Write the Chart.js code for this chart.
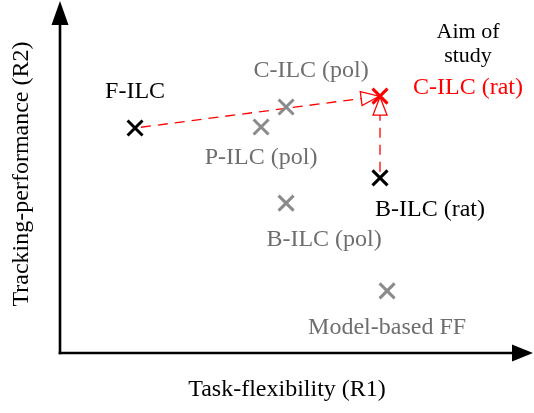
<!DOCTYPE html>
<html><head><meta charset="utf-8">
<script src="https://cdn.jsdelivr.net/npm/chart.js@4"></script>
<style>html,body{margin:0;padding:0;background:#fff}#wrap{width:534px;height:413px}</style>
</head><body><div id="wrap"><canvas id="c" width="534" height="413"></canvas></div>
<script>
// Data (arbitrary 0-10 units)
const names = ['F-ILC','P-ILC (pol)','C-ILC (pol)','C-ILC (rat)','B-ILC (rat)','B-ILC (pol)','Model-based FF'];
const flexibility = [1.59, 4.26, 4.79, 6.78, 6.78, 4.79, 6.93];
const performance = [6.41, 6.44, 7.01, 7.32, 4.99, 4.27, 1.77];
const kinds = ['black','gray','gray','red','black','gray','gray'];
const xTitle = 'Task-flexibility (R1)';
const yTitle = 'Tracking-performance (R2)';
const aimText = ['Aim of', 'study'];
// arrows: from index -> to index
const arrows = [[0,3],[4,3]];

// styling (kept separate)
const markColor = {black:'#000000', gray:'#8a8a8a', red:'#ff0000'};
const textColor = {black:'#000000', gray:'#6e6e6e', red:'#ff0000'};
const labelOffset = [[0,-36],[0,31],[25,-36],[88,-8],[50,32],[38,37],[0,37]];
const FONT = '"Liberation Serif", "Times New Roman", serif';

const overlay = {
  id:'overlay',
  afterDatasetsDraw(chart){
    const ctx = chart.ctx, xs = chart.scales.x, ys = chart.scales.y;
    const ca = chart.chartArea;
    const px = i => xs.getPixelForValue(flexibility[i]);
    const py = i => ys.getPixelForValue(performance[i]);
    ctx.save();
    // axes with arrowheads
    const ox = ca.left, oy = ca.bottom;
    ctx.strokeStyle = '#000'; ctx.fillStyle = '#000'; ctx.lineWidth = 2.6;
    ctx.beginPath(); ctx.moveTo(ox, oy + 1.3); ctx.lineTo(ox, ca.top + 20); ctx.stroke();
    ctx.beginPath(); ctx.moveTo(ox - 1.3, oy); ctx.lineTo(ca.right - 18, oy); ctx.stroke();
    ctx.beginPath(); ctx.moveTo(ox, ca.top - 1); ctx.lineTo(ox - 8.5, ca.top + 23); ctx.lineTo(ox + 8.5, ca.top + 23); ctx.closePath(); ctx.fill();
    ctx.beginPath(); ctx.moveTo(ca.right + 1, oy); ctx.lineTo(ca.right - 20, oy - 8.5); ctx.lineTo(ca.right - 20, oy + 8.5); ctx.closePath(); ctx.fill();
    // dashed arrows
    arrows.forEach(([a,b]) => {
      const x0 = px(a), y0 = py(a), x1 = px(b), y1 = py(b);
      const dx = x1 - x0, dy = y1 - y0, L = Math.hypot(dx, dy);
      const ux = dx / L, uy = dy / L;
      const head = 19, hw = 7;
      const bx = x1 - ux * head, by = y1 - uy * head;
      ctx.strokeStyle = '#ff0000'; ctx.lineWidth = 1.3; ctx.setLineDash([10,7]);
      ctx.beginPath(); ctx.moveTo(x0 + ux*6, y0 + uy*6); ctx.lineTo(bx, by); ctx.stroke();
      ctx.setLineDash([]);
      ctx.beginPath();
      ctx.moveTo(x1 - ux*1, y1 - uy*1);
      ctx.lineTo(bx - uy*hw, by + ux*hw);
      ctx.lineTo(bx + uy*hw, by - ux*hw);
      ctx.closePath();
      ctx.fillStyle = '#ffffff'; ctx.fill();
      ctx.lineWidth = 1.3; ctx.stroke();
    });
    // redraw marks of arrow endpoints on top
    ctx.restore();
    ctx.save();
    // labels
    ctx.textAlign = 'center'; ctx.textBaseline = 'middle';
    ctx.font = '24px ' + FONT;
    names.forEach((n,i) => {
      ctx.fillStyle = textColor[kinds[i]];
      ctx.fillText(n, px(i) + labelOffset[i][0], py(i) + labelOffset[i][1]);
    });
    ctx.fillStyle = '#000'; ctx.font = '22px ' + FONT;
    ctx.fillText(aimText[0], 468, 32);
    ctx.fillText(aimText[1], 468, 56);
    ctx.font = '24px ' + FONT;
    ctx.fillText(xTitle, 287, 390);
    ctx.translate(22, 174); ctx.rotate(-Math.PI/2);
    ctx.fillText(yTitle, 0, 0);
    ctx.restore();
  }
};

const marks = {
  id:'marks',
  afterDraw(chart){
    const ctx = chart.ctx, xs = chart.scales.x, ys = chart.scales.y;
    ctx.save();
    ctx.lineCap = 'butt';
    names.forEach((n,i) => {
      const x = xs.getPixelForValue(flexibility[i]), y = ys.getPixelForValue(performance[i]);
      const r = 7.5;
      ctx.strokeStyle = markColor[kinds[i]]; ctx.lineWidth = 3;
      ctx.beginPath(); ctx.moveTo(x-r,y-r); ctx.lineTo(x+r,y+r); ctx.moveTo(x+r,y-r); ctx.lineTo(x-r,y+r); ctx.stroke();
    });
    ctx.restore();
  }
};

new Chart(document.getElementById('c'), {
  type:'scatter',
  data:{ datasets:[{
    data: flexibility.map((v,i)=>({x:v, y:performance[i]})),
    pointStyle:'crossRot', pointRadius:0, pointHoverRadius:0,
    borderColor: kinds.map(k=>markColor[k]), borderWidth:3
  }]},
  options:{
    responsive:false, animation:false, devicePixelRatio:1,
    layout:{padding:{left:60,right:2,top:2,bottom:60}},
    plugins:{legend:{display:false}, tooltip:{enabled:false}},
    events:[],
    scales:{
      x:{type:'linear', min:0, max:10, display:false},
      y:{type:'linear', min:0, max:10, display:false}
    }
  },
  plugins:[overlay, marks]
});
</script></body></html>
